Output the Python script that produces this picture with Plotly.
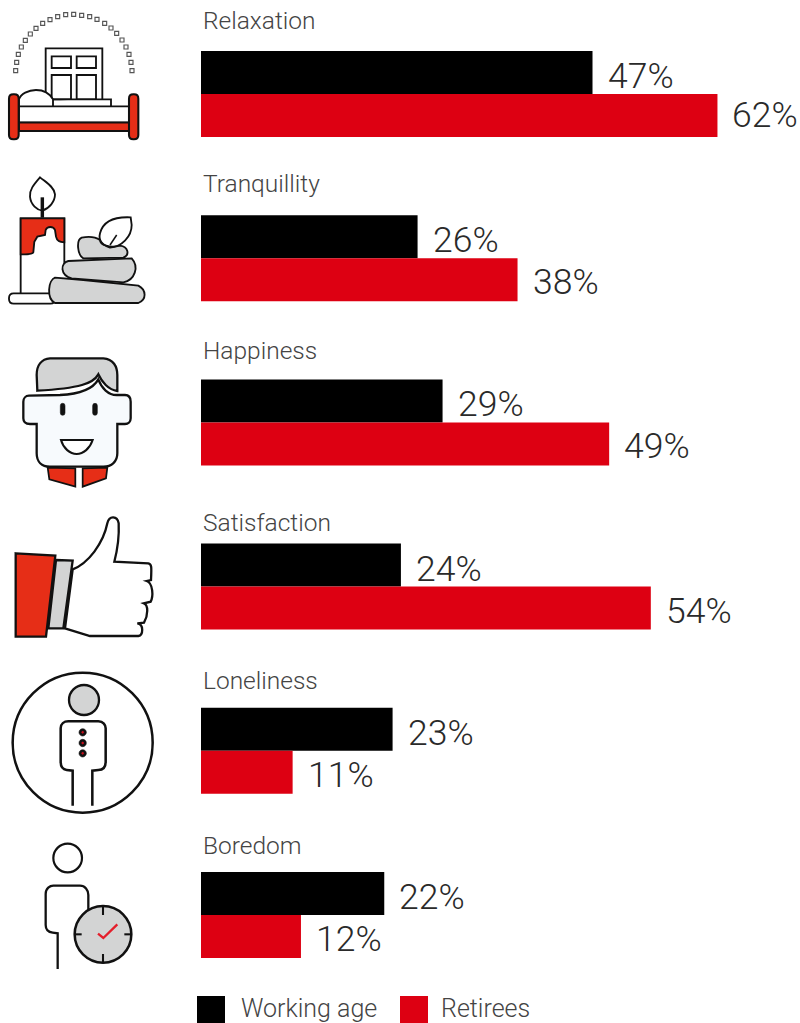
import re
import plotly.graph_objects as go

# Survey results, percent of respondents
categories = ["Relaxation", "Tranquillity", "Happiness", "Satisfaction", "Loneliness", "Boredom"]
working_age = [47, 26, 29, 24, 23, 22]
retirees = [62, 38, 49, 54, 11, 12]

BLACK = "#000000"
RED = "#DD0012"
ICON_RED = "#E62E17"
GREY = "#D3D4D4"
INK = "#111111"
CLEAR = "rgba(0,0,0,0)"

WIDTH, HEIGHT = 800, 1023
PX_PER_PCT = 8.33
PITCH = 164.2
FIRST_CENTER = 94.0
BAR_BAND = 86.0
STROKE_SCALE = 1.15

LABEL_FONT = dict(family="Roboto", size=35.5, color="#2a2a2a", weight=300)
TITLE_FONT = dict(family="Roboto", size=24.5, color="#444444", weight=300)
LEGEND_FONT = dict(family="Roboto", size=25, color="#444444", weight=300)
title_lift = [74, 75, 72, 64, 70, 70]
retiree_label_shift = [-21, -24, -24, -24, -24, -24]

fig = go.Figure()
fig.add_bar(name="Working age", y=categories, x=working_age, orientation="h", marker=dict(color=BLACK, line_width=0))
fig.add_bar(name="Retirees", y=categories, x=retirees, orientation="h", marker=dict(color=RED, line_width=0))

annotations = []
for i, cat in enumerate(categories):
    annotations.append(dict(x=0, y=cat, xref="x", yref="y", text=cat, showarrow=False,
                            xanchor="left", yanchor="middle", xshift=0, yshift=title_lift[i], font=TITLE_FONT))
    annotations.append(dict(x=working_age[i], y=cat, xref="x", yref="y", text=f"{working_age[i]}%", showarrow=False,
                            xanchor="left", yanchor="middle", xshift=13, yshift=18, font=LABEL_FONT))
    annotations.append(dict(x=retirees[i], y=cat, xref="x", yref="y", text=f"{retirees[i]}%", showarrow=False,
                            xanchor="left", yanchor="middle", xshift=13, yshift=retiree_label_shift[i], font=LABEL_FONT))

# Legend entries sit in the pixel-space axes
annotations.append(dict(x=240, y=1008, xref="x2", yref="y2", text="Working age", showarrow=False, borderpad=0,
                        xanchor="left", yanchor="middle", font=LEGEND_FONT))
annotations.append(dict(x=440, y=1008, xref="x2", yref="y2", text="Retirees", showarrow=False, borderpad=0,
                        xanchor="left", yanchor="middle", font=LEGEND_FONT))

shapes = []


def scaled(d, ox, oy):
    """Icon outlines are authored at 3x; bring them down and move them into place."""
    tokens = re.findall(r"[A-Za-z]|-?\d+\.?\d*", d)
    out, is_x = [], True
    for t in tokens:
        if t.isalpha():
            out.append(t)
            is_x = True
        else:
            v = float(t) / 3 + (ox if is_x else oy)
            out.append(f"{v:.2f}")
            is_x = not is_x
    return " ".join(out)


def add(d, ox, oy, fill=None, line=INK, width=2.0):
    shape = dict(type="path", xref="x2", yref="y2", path=scaled(d, ox, oy), layer="above",
                 line=dict(color=line, width=width * STROKE_SCALE))
    if fill:
        shape["fillcolor"] = fill
    shapes.append(shape)


def rrect(x0, y0, x1, y1, r):
    return (f"M {x0+r} {y0} L {x1-r} {y0} Q {x1} {y0} {x1} {y0+r} L {x1} {y1-r} Q {x1} {y1} {x1-r} {y1} "
            f"L {x0+r} {y1} Q {x0} {y1} {x0} {y1-r} L {x0} {y0+r} Q {x0} {y0} {x0+r} {y0} Z")


def circle(cx, cy, r):
    k = 0.5523 * r
    return (f"M {cx-r} {cy} C {cx-r} {cy-k} {cx-k} {cy-r} {cx} {cy-r} C {cx+k} {cy-r} {cx+r} {cy-k} {cx+r} {cy} "
            f"C {cx+r} {cy+k} {cx+k} {cy+r} {cx} {cy+r} C {cx-k} {cy+r} {cx-r} {cy+k} {cx-r} {cy} Z")


# Bed under a window, with a dotted arch
arch = [(47, 212), (50, 187), (55, 163), (64, 141), (76, 121), (91, 102), (108, 85), (128, 70), (150, 59), (173, 50),
        (197, 44), (221, 43), (245, 46), (269, 50), (291, 58), (314, 70), (333, 84), (350, 100), (366, 120),
        (378, 141), (387, 163), (393, 187), (396, 212)]
for ax, ay in arch:
    add(f"M {ax-6} {ay-6} L {ax+6} {ay-6} L {ax+6} {ay+6} L {ax-6} {ay+6} Z", 0, 0, "#ffffff", "#555555", 1.0)
add("M 137 300 L 137 145 L 307 145 L 307 300", 0, 0, CLEAR, INK, 1.6)
for box in ["155 169 213 204", "230 169 288 204", "155 225 213 298", "230 225 288 298"]:
    x0, y0, x1, y1 = box.split()
    add(f"M {x0} {y0} L {x1} {y0} L {x1} {y1} L {x0} {y1} Z", 0, 0, "#ffffff", INK, 1.6)
add("M 57 318 L 57 298 C 62 282 85 270 108 270 C 132 270 150 282 159 298 L 159 318", 0, 0, "#ffffff", INK, 1.6)
add("M 159 298 L 333 298 L 333 318", 0, 0, "#ffffff", INK, 1.6)
add("M 57 319 L 387 319 L 387 367 L 57 367 Z", 0, 0, "#ffffff", INK, 1.6)
add("M 57 368 L 387 368 L 387 393 L 57 393 Z", 0, 0, ICON_RED, INK, 1.6)
add(rrect(27, 283, 56, 418, 13), 0, 0, ICON_RED, INK, 1.8)
add(rrect(387, 283, 415, 418, 13), 0, 0, ICON_RED, INK, 1.8)

# Candle beside stacked stones
oy = 165
add("M 120 37 C 100 60 88 75 90 95 C 92 120 112 135 127 137 C 148 130 165 110 165 88 C 163 65 135 50 120 37 Z",
    0, oy, "#ffffff", INK, 1.6)
add("M 127 97 L 127 158", 0, oy, None, INK, 3)
add("M 62 385 L 62 160 L 193 160 L 193 300", 0, oy, CLEAR, INK, 1.6)
add("M 62 160 L 193 160 L 193 232 C 180 232 170 225 168 215 L 165 195 C 160 183 142 183 137 195 L 135 210 "
    "L 112 215 L 103 230 L 100 262 C 98 270 70 268 62 268 Z", 0, oy, ICON_RED, INK, 1.6)
add(rrect(27, 385, 165, 416, 14), 0, oy, "#ffffff", INK, 1.6)
add("M 165 338 C 145 345 138 400 165 414 L 415 414 C 440 405 440 375 415 362 L 250 345 Z", 0, oy, GREY, INK, 1.6)
add("M 205 288 C 180 295 180 330 215 340 L 370 352 C 405 345 418 305 395 280 Z", 0, oy, GREY, INK, 1.6)
add("M 245 218 C 228 225 232 270 250 280 L 370 278 C 390 270 385 245 360 242 C 330 250 300 240 300 225 "
    "C 285 215 260 215 245 218 Z", 0, oy, GREY, INK, 1.6)
add("M 392 157 C 350 155 310 165 300 205 C 295 225 305 240 330 248 C 365 245 395 215 395 180 Z", 0, oy, CLEAR, INK, 1.6)
add("M 350 210 L 330 240", 0, oy, None, INK, 1.3)

# Smiling face with a red collar
oy = 340
add("M 112 152 L 110 105 C 110 75 125 57 150 55 L 310 55 C 340 57 352 80 352 105 L 352 153 C 325 150 305 125 295 103 "
    "C 280 130 240 145 112 152 Z", 0, oy, GREY, INK, 2)
add("M 110 252 L 110 340 C 110 365 125 380 150 380 L 310 380 C 335 380 352 365 352 340 L 352 252 L 375 252 "
    "C 385 252 392 245 392 235 L 392 185 C 392 172 385 165 375 165 L 350 165 C 325 165 305 145 295 118 "
    "C 280 145 240 162 180 165 L 87 167 C 77 167 70 175 70 185 L 70 235 C 70 245 77 252 90 252 Z", 0, oy, "#F7FAFD", INK, 2)
add(rrect(181, 190, 195, 226, 7), 0, oy, INK, INK, 0.5)
add(rrect(278, 190, 292, 226, 7), 0, oy, INK, INK, 0.5)
add("M 183 300 L 278 300 C 270 325 250 342 230 342 C 210 342 190 325 183 300 Z", 0, oy, "#ffffff", INK, 1.8)
add("M 143 383 L 226 385 L 226 440 L 148 418 Z", 0, oy, ICON_RED, INK, 1.5)
add("M 248 385 L 322 383 L 318 415 L 248 440 Z", 0, oy, ICON_RED, INK, 1.5)

# Thumbs up with red sleeve
oy = 500
add("M 218 208 C 265 190 310 130 322 70 C 328 45 352 48 356 70 C 358 110 352 150 343 185 L 445 190 "
    "C 455 192 455 200 453 240 L 440 243 C 460 250 460 290 452 305 L 432 310 C 445 315 445 345 432 368 L 412 370 "
    "C 432 373 430 405 415 408 L 270 408 L 195 385 Z", 0, oy, "#ffffff", INK, 2)
add("M 168 180 L 218 182 L 190 385 L 145 385 Z", 0, oy, GREY, INK, 2)
add("M 47 160 L 166 167 L 138 410 L 47 410 Z", 0, oy, ICON_RED, INK, 2)

# Lone figure inside a circle
oy = 660
add(circle(248, 248, 210), 0, oy, "#ffffff", INK, 2.2)
add(circle(252, 120, 45), 0, oy, GREY, INK, 2)
add("M 218 437 L 218 332 L 200 330 C 185 328 182 315 182 305 L 182 205 C 182 192 192 184 205 184 L 295 184 "
    "C 310 184 317 195 317 205 L 317 305 C 317 320 310 330 295 330 L 277 332 L 277 437", 0, oy, CLEAR, INK, 2.2)
for dot_y in (217, 249, 280):
    add(circle(248, dot_y, 11), 0, oy, INK, INK, 0.5)
    add(circle(248, dot_y, 3), 0, oy, "#C8101E", "#C8101E", 0.5)

# Figure beside a clock
oy = 830
add(circle(203, 84, 43), 0, oy, CLEAR, INK, 1.9)
add("M 173 417 L 173 310 L 158 308 C 142 306 137 295 137 285 L 137 192 C 137 175 150 167 160 167 L 240 167 "
    "C 255 167 265 180 265 195 L 265 240", 0, oy, CLEAR, INK, 2)
add(circle(309, 313, 85), 0, oy, GREY, INK, 2.2)
for tick in ["309 230 309 255", "309 372 309 397", "225 313 245 313", "373 313 395 313"]:
    a, b, c, d = tick.split()
    add(f"M {a} {b} L {c} {d}", 0, oy, None, INK, 1.8)
add("M 294 311 L 310 324 L 352 283", 0, oy, CLEAR, "#E41E2B", 2)

# Legend swatches
for x0, color in ((197, BLACK), (400, RED)):
    shapes.append(dict(type="rect", xref="x2", yref="y2", x0=x0, x1=x0 + 28, y0=996, y1=1024, layer="above",
                       fillcolor=color, line_width=0))

fig.update_layout(
    width=WIDTH, height=HEIGHT, autosize=False,
    margin=dict(l=0, r=0, t=0, b=0),
    paper_bgcolor="#ffffff", plot_bgcolor="rgba(0,0,0,0)",
    barmode="group", bargap=1 - BAR_BAND / PITCH, bargroupgap=0,
    showlegend=False,
    xaxis=dict(domain=[201 / WIDTH, 1], range=[0, (WIDTH - 201) / PX_PER_PCT], visible=False, fixedrange=True),
    yaxis=dict(domain=[0, 1], type="category", categoryorder="array", categoryarray=categories,
               range=[(HEIGHT - FIRST_CENTER) / PITCH, -FIRST_CENTER / PITCH], visible=False, fixedrange=True),
    # Pixel-space axes used for the icons and legend
    xaxis2=dict(domain=[0, 1], range=[0, WIDTH], visible=False, anchor="y2", fixedrange=True),
    yaxis2=dict(domain=[0, 1], range=[HEIGHT, 0], visible=False, anchor="x2", fixedrange=True),
    shapes=shapes, annotations=annotations,
)

fig.write_html("out.html", config=dict(displayModeBar=False))
